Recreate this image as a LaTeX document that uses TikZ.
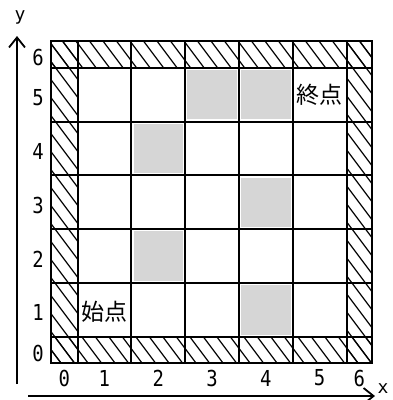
\documentclass[tikz,border=0pt]{standalone}
\usepackage{fontspec}
\usepackage{graphicx}
\newfontfamily\digitfont{DejaVu Sans Mono}
\newfontfamily\jpfont{Noto Sans CJK JP}
\usetikzlibrary{arrows.meta}
\newcommand\narrowtxt[1]{\scalebox{0.86}[1]{#1}}
\tikzset{
  gridline/.style={line width=2pt},
  frameline/.style={line width=2.4pt},
  hatchline/.style={line width=1.2pt},
  axisline/.style={line width=1.6pt,-{Straight Barb[length=10pt,width=16pt,line width=1.8pt]}},
  graycell/.style={fill=black!16,draw=none},
  numlabel/.style={inner sep=0pt,font=\digitfont\fontsize{22}{22}\selectfont},
  jplabel/.style={inner sep=0pt,font=\jpfont\fontsize{23}{23}\selectfont},
  axislabel/.style={inner sep=0pt,font=\digitfont\fontsize{18}{18}\selectfont}
}
\begin{document}
\begin{tikzpicture}[x=1pt,y=-1pt]
\useasboundingbox (0,0) rectangle (392,400);
% cell geometry
\def\C{53.8}
\def\XL{51}\def\XA{77.5}\def\XB{346.5}\def\XR{372}
\def\YT{41}\def\YA{67.7}\def\YB{336.7}\def\YBot{363}
% gray cells (i,j): column i, row j (j=5 top inner row)
\foreach \i/\j in {3/5,4/5,2/4,4/3,2/2,4/1}{
  \pgfmathsetmacro\xa{\XA+(\i-1)*\C+2.2}
  \pgfmathsetmacro\ya{\YA+(5-\j)*\C+2.2}
  \pgfmathsetmacro\xb{\XA+\i*\C-2.2}
  \pgfmathsetmacro\yb{\YA+(6-\j)*\C-2.2}
  \path[graycell] (\xa,\ya) rectangle (\xb,\yb);
}
% hatching in the border strips
\foreach \cl in {{(\XL,\YT) rectangle (\XR,\YA)},{(\XL,\YB) rectangle (\XR,\YBot)},{(\XL,\YT) rectangle (\XA,\YBot)},{(\XB,\YT) rectangle (\XR,\YBot)}}{
  \begin{scope}
    \clip \cl;
    \foreach \k in {-25,...,30}{
      \pgfmathsetmacro\xo{18.2+13.5*\k}
      \draw[hatchline] (\xo,0) -- ({\xo+300},400);
    }
  \end{scope}
}
% grid lines
\foreach \i in {0,...,5}{
  \pgfmathsetmacro\xx{\XA+\i*\C}
  \draw[gridline] (\xx,\YT) -- (\xx,\YBot);
}
\foreach \j in {0,...,5}{
  \pgfmathsetmacro\yy{\YA+\j*\C}
  \draw[gridline] (\XL,\yy) -- (\XR,\yy);
}
\draw[frameline] (\XL,\YT) rectangle (\XR,\YBot);
% labels in cells
\node[jplabel] (goal) at (319.6,95) {終点};
\node[jplabel] (start) at (104.6,312) {始点};
% axis tick labels
\node[numlabel] (y6) at (38,57.5) {\narrowtxt{6}};
\node[numlabel] (y5) at (38,97.6) {\narrowtxt{5}};
\node[numlabel] (y4) at (38,151.4) {\narrowtxt{4}};
\node[numlabel] (y3) at (38,205.2) {\narrowtxt{3}};
\node[numlabel] (y2) at (38,259) {\narrowtxt{2}};
\node[numlabel] (y1) at (38,312.8) {\narrowtxt{1}};
\node[numlabel] (y0) at (38,353) {\narrowtxt{0}};
\node[numlabel] (x0) at (64.2,378) {\narrowtxt{0}};
\node[numlabel] (x1) at (104.4,378) {\narrowtxt{1}};
\node[numlabel] (x2) at (158.2,378) {\narrowtxt{2}};
\node[numlabel] (x3) at (212,378) {\narrowtxt{3}};
\node[numlabel] (x4) at (265.8,378) {\narrowtxt{4}};
\node[numlabel] (x5) at (319.6,378) {\narrowtxt{5}};
\node[numlabel] (x6) at (359.2,378) {\narrowtxt{6}};
% axes
\coordinate (ybot) at (17,384);
\coordinate (ytop) at (17,36);
\coordinate (xleft) at (28,396);
\coordinate (xright) at (375,396);
\draw[axisline] (ybot) -- (ytop);
\draw[axisline] (xleft) -- (xright);
\node[axislabel] (ylab) at (20,17) {y};
\node[axislabel] (xlab) at (383,389) {x};
\end{tikzpicture}
\end{document}
